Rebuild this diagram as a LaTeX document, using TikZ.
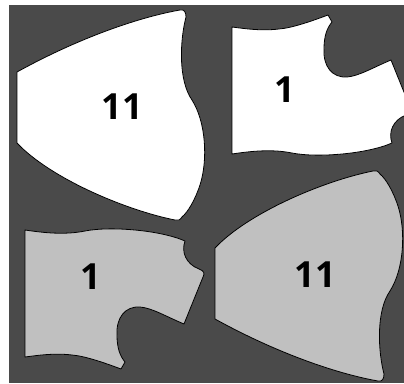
\documentclass[tikz,border=0pt]{standalone}
\usepackage{fontspec}
\setmainfont{Open Sans}
\definecolor{BoardGray}{RGB}{74,74,74}
\definecolor{PieceGray}{RGB}{192,192,192}
\tikzset{
  piece/.style={draw=black,line width=0.8pt,line join=round},
  num/.style={font=\fontsize{36}{40}\selectfont\bfseries,inner sep=0pt},
}
% outlines in pixel units, y pointing down
\newcommand{\fanoutline}{(17,72) .. controls (75,40) and (135,18) .. (180,10)
  .. controls (184,9) and (186,12) .. (186,17)
  .. controls (180,40) and (178,80) .. (192,100)
  .. controls (206,122) and (208,160) .. (200,185)
  .. controls (195,200) and (188,212) .. (182,217)
  .. controls (180,220) and (178,221) .. (175,220)
  .. controls (125,210) and (50,178) .. (17,143) -- cycle}
\newcommand{\tabsoutline}{(25,230) .. controls (45,233) and (65,235) .. (85,231)
  .. controls (110,226) and (160,230) .. (185,241)
  .. controls (181,252) and (186,264) .. (199,269)
  .. controls (204,271) and (205,273) .. (203,277)
  -- (184,324)
  .. controls (165,316) and (152,308) .. (140,307)
  .. controls (125,306) and (116,318) .. (117,335)
  .. controls (117,348) and (120,356) .. (125,362)
  -- (121,369)
  .. controls (105,363) and (85,356) .. (72,355)
  .. controls (55,353) and (40,355) .. (25,357) -- cycle}

\begin{document}
\begin{tikzpicture}[x=1pt,y=-1pt]
\useasboundingbox (0,0) rectangle (404,383);
\fill[BoardGray] (9,5) rectangle (404,383);
\begin{scope}
\clip (9,5) rectangle (404,383);
% top row, white
\filldraw[piece,fill=white] \fanoutline;
\begin{scope}[shift={(207,384)},yscale=-1]
\filldraw[piece,fill=white] \tabsoutline;
\end{scope}
% bottom row, gray
\filldraw[piece,fill=PieceGray] \tabsoutline;
\begin{scope}[shift={(198,391)},yscale=-1]
\filldraw[piece,fill=PieceGray] \fanoutline;
\end{scope}
\end{scope}
\node[num] (numTL) at (122,107) {11};
\node[num] (numTR) at (285,90) {1};
\node[num] (numBL) at (91,277) {1};
\node[num] (numBR) at (315,275) {11};
\end{tikzpicture}
\end{document}
